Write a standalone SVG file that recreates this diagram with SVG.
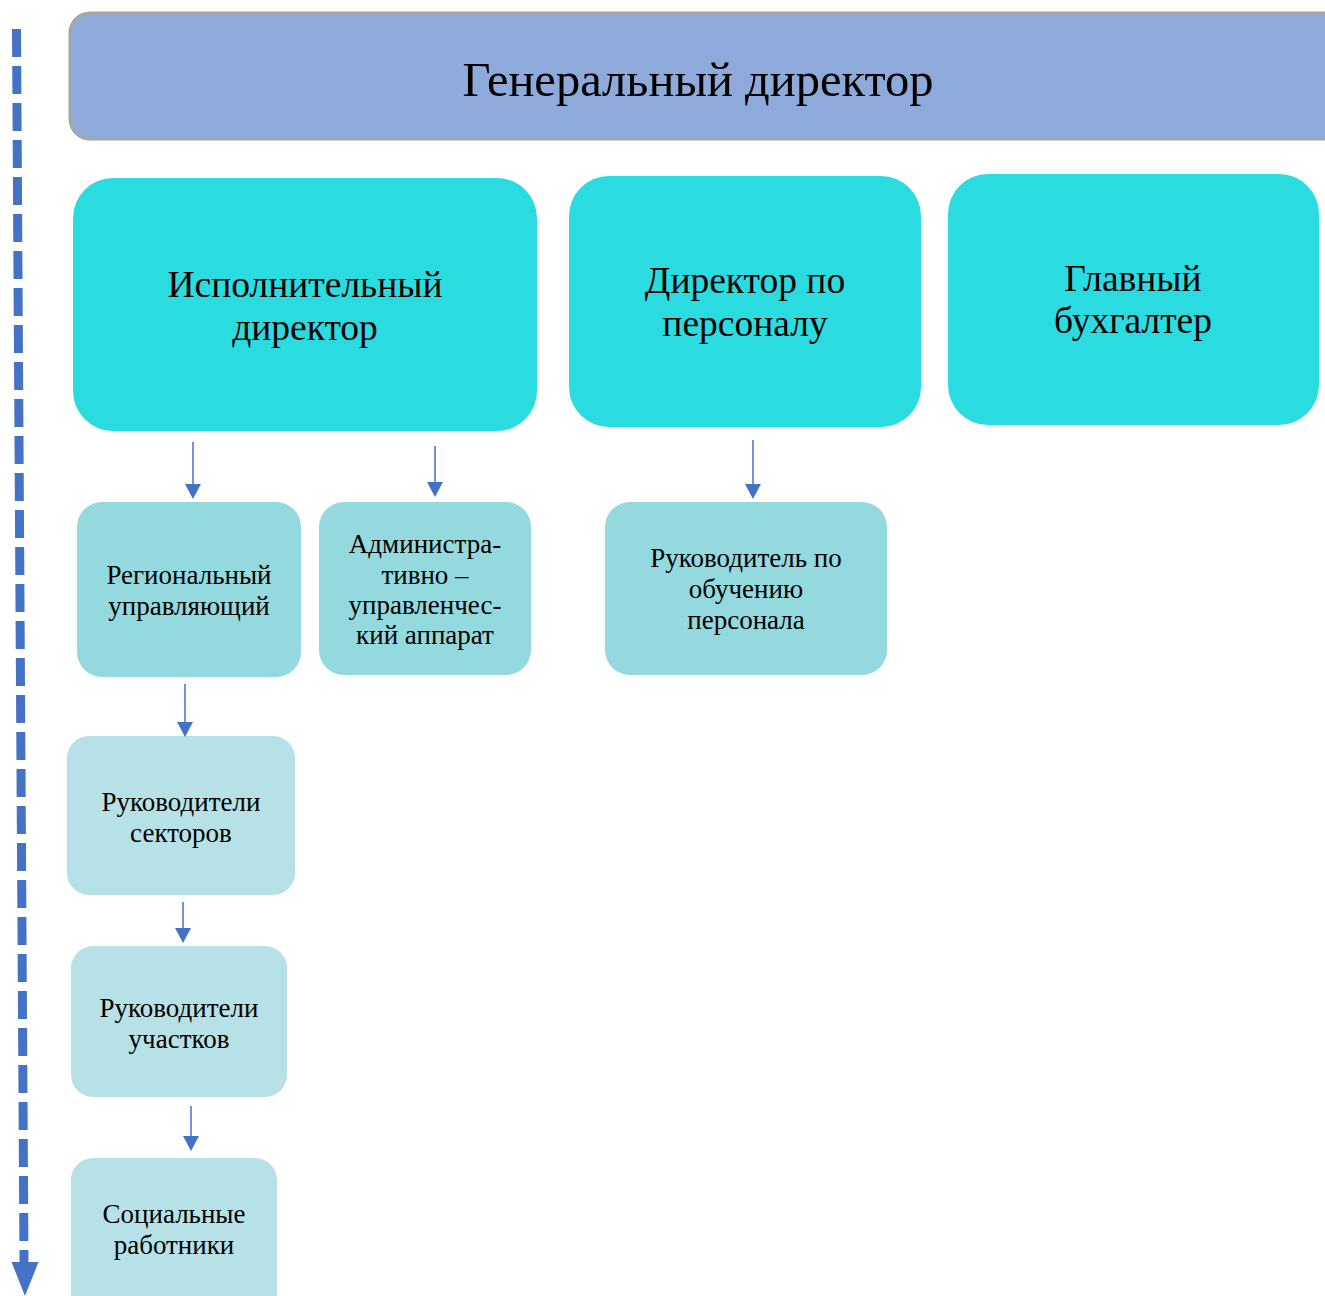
<svg xmlns="http://www.w3.org/2000/svg" width="1325" height="1296" viewBox="0 0 1325 1296">
<defs>
<style>
text{font-family:"Liberation Serif","Times New Roman",serif;fill:#000;text-anchor:middle}
.t1{font-size:48.5px}
.t2{font-size:37.5px}
.t3{font-size:27px}
.big{fill:#2adbdf}
.mid{fill:#93d9dd}
.lt{fill:#b6e1e7}
</style>
</defs>
<rect width="1325" height="1296" fill="#fff"/>
<g id="timeline">
<line x1="16.5" y1="29" x2="24" y2="1262" stroke="#4472c4" stroke-width="9" stroke-dasharray="28 9"/>
<path d="M11.5,1262 L38.5,1262 L25,1296 Z" fill="#4472c4"/>
</g>
<g id="gen">
<rect x="70" y="13" width="1275" height="126" rx="20" fill="#8eaadb" stroke="#a6a6a6" stroke-width="3"/>
<text class="t1" x="698" y="96">Генеральный директор</text>
</g>
<g id="exec">
<rect class="big" x="73" y="178" width="464" height="253" rx="40"/>
<text class="t2" x="305" y="297">Исполнительный</text>
<text class="t2" x="305" y="340">директор</text>
</g>
<g id="hr">
<rect class="big" x="569" y="176" width="352" height="251" rx="40"/>
<text class="t2" x="745" y="293">Директор по</text>
<text class="t2" x="745" y="336">персоналу</text>
</g>
<g id="acc">
<rect class="big" x="948" y="174" width="371" height="251" rx="40"/>
<text class="t2" x="1133" y="291">Главный</text>
<text class="t2" x="1133" y="333">бухгалтер</text>
</g>
<g id="reg">
<rect class="mid" x="77" y="502" width="224" height="175" rx="25"/>
<text class="t3" x="189" y="584">Региональный</text>
<text class="t3" x="189" y="615">управляющий</text>
</g>
<g id="adm">
<rect class="mid" x="319" y="502" width="212" height="173" rx="25"/>
<text class="t3" x="425" y="553">Администра-</text>
<text class="t3" x="425" y="584">тивно –</text>
<text class="t3" x="425" y="614">управленчес-</text>
<text class="t3" x="425" y="644">кий аппарат</text>
</g>
<g id="train">
<rect class="mid" x="605" y="502" width="282" height="173" rx="25"/>
<text class="t3" x="746" y="567">Руководитель по</text>
<text class="t3" x="746" y="598">обучению</text>
<text class="t3" x="746" y="629">персонала</text>
</g>
<g id="sect">
<rect class="lt" x="67" y="736" width="228" height="159" rx="22"/>
<text class="t3" x="181" y="811">Руководители</text>
<text class="t3" x="181" y="842">секторов</text>
</g>
<g id="uch">
<rect class="lt" x="71" y="946" width="216" height="151" rx="22"/>
<text class="t3" x="179" y="1017">Руководители</text>
<text class="t3" x="179" y="1048">участков</text>
</g>
<g id="soc">
<rect class="lt" x="71" y="1158" width="206" height="160" rx="22"/>
<text class="t3" x="174" y="1223">Социальные</text>
<text class="t3" x="174" y="1254">работники</text>
</g>
<g id="connectors" stroke="#4472c4" stroke-width="1.5" fill="#4472c4">
<line x1="193" y1="442" x2="193" y2="486"/><path d="M185,484 L201,484 L193,499 Z" stroke="none"/>
<line x1="435" y1="446" x2="435" y2="484"/><path d="M427,482 L443,482 L435,497 Z" stroke="none"/>
<line x1="753" y1="440" x2="753" y2="486"/><path d="M745,484 L761,484 L753,499 Z" stroke="none"/>
<line x1="185" y1="684" x2="185" y2="724"/><path d="M177,722 L193,722 L185,737 Z" stroke="none"/>
<line x1="183" y1="902" x2="183" y2="930"/><path d="M175,928 L191,928 L183,943 Z" stroke="none"/>
<line x1="191" y1="1106" x2="191" y2="1138"/><path d="M183,1136 L199,1136 L191,1151 Z" stroke="none"/>
</g>
</svg>
